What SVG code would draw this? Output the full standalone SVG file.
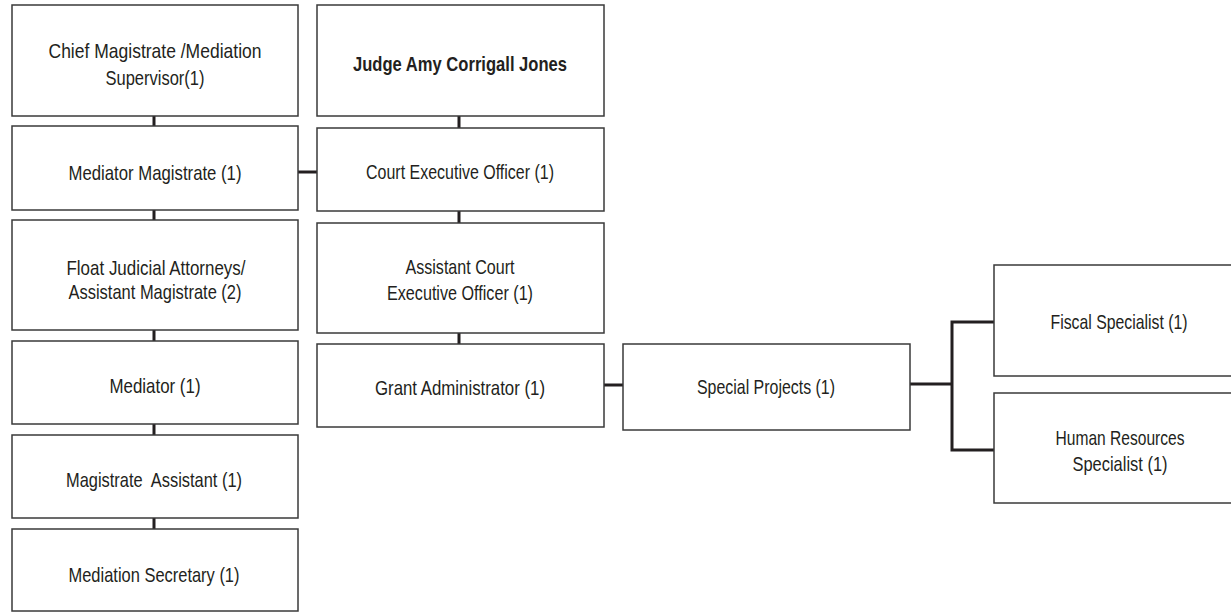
<svg xmlns="http://www.w3.org/2000/svg" width="1231" height="612" viewBox="0 0 1231 612">
  <style>
    .box { fill: #ffffff; stroke: #3a3a3a; stroke-width: 1.5; }
    .lbl { font-family: "Liberation Sans", Arial, sans-serif; font-size: 21px; fill: #231f20; text-anchor: middle; }
    .bold { font-weight: bold; }
    .link { fill: none; stroke: #231f20; stroke-width: 3; }
  </style>
  <rect width="1231" height="612" fill="#ffffff"/>

  <!-- connectors -->
  <g id="connectors">
    <path class="link" d="M154 116V126 M154 210V220 M154 330V341 M154 424V435 M154 518V529"/>
    <path class="link" d="M459 116V128 M459 211V223 M459 333V344"/>
    <path class="link" d="M298 172H317"/>
    <path class="link" d="M604 385H623"/>
    <path class="link" d="M910 384H952 M994 322H952V450H994"/>
  </g>

  <!-- left column -->
  <g id="chief-magistrate">
    <rect class="box" x="12" y="5" width="286" height="111"/>
    <text class="lbl" x="155" y="58" textLength="213" lengthAdjust="spacingAndGlyphs">Chief Magistrate /Mediation</text>
    <text class="lbl" x="155" y="85" textLength="99" lengthAdjust="spacingAndGlyphs">Supervisor(1)</text>
  </g>
  <g id="mediator-magistrate">
    <rect class="box" x="12" y="126" width="286" height="84"/>
    <text class="lbl" x="155" y="180" textLength="173" lengthAdjust="spacingAndGlyphs">Mediator Magistrate (1)</text>
  </g>
  <g id="float-attorneys">
    <rect class="box" x="12" y="220" width="286" height="110"/>
    <text class="lbl" x="156" y="275" textLength="179" lengthAdjust="spacingAndGlyphs">Float Judicial Attorneys/</text>
    <text class="lbl" x="155" y="299" textLength="173" lengthAdjust="spacingAndGlyphs">Assistant Magistrate (2)</text>
  </g>
  <g id="mediator">
    <rect class="box" x="12" y="341" width="286" height="83"/>
    <text class="lbl" x="155" y="393" textLength="91" lengthAdjust="spacingAndGlyphs">Mediator (1)</text>
  </g>
  <g id="magistrate-assistant">
    <rect class="box" x="12" y="435" width="286" height="83"/>
    <text class="lbl" x="154" y="487" textLength="176" lengthAdjust="spacingAndGlyphs" xml:space="preserve">Magistrate  Assistant (1)</text>
  </g>
  <g id="mediation-secretary">
    <rect class="box" x="12" y="529" width="286" height="82"/>
    <text class="lbl" x="154" y="582" textLength="171" lengthAdjust="spacingAndGlyphs">Mediation Secretary (1)</text>
  </g>

  <!-- centre column -->
  <g id="judge">
    <rect class="box" x="317" y="5" width="287" height="111"/>
    <text class="lbl bold" x="460" y="71" textLength="214" lengthAdjust="spacingAndGlyphs">Judge Amy Corrigall Jones</text>
  </g>
  <g id="court-executive-officer">
    <rect class="box" x="317" y="128" width="287" height="83"/>
    <text class="lbl" x="460" y="179" textLength="188" lengthAdjust="spacingAndGlyphs">Court Executive Officer (1)</text>
  </g>
  <g id="assistant-ceo">
    <rect class="box" x="317" y="223" width="287" height="110"/>
    <text class="lbl" x="460" y="274" textLength="109" lengthAdjust="spacingAndGlyphs">Assistant Court</text>
    <text class="lbl" x="460" y="300" textLength="146" lengthAdjust="spacingAndGlyphs">Executive Officer (1)</text>
  </g>
  <g id="grant-administrator">
    <rect class="box" x="317" y="344" width="287" height="83"/>
    <text class="lbl" x="460" y="395" textLength="170" lengthAdjust="spacingAndGlyphs">Grant Administrator (1)</text>
  </g>

  <!-- right side -->
  <g id="special-projects">
    <rect class="box" x="623" y="344" width="287" height="86"/>
    <text class="lbl" x="766" y="394" textLength="138" lengthAdjust="spacingAndGlyphs">Special Projects (1)</text>
  </g>
  <g id="fiscal-specialist">
    <rect class="box" x="994" y="265" width="260" height="111"/>
    <text class="lbl" x="1119" y="329" textLength="137" lengthAdjust="spacingAndGlyphs">Fiscal Specialist (1)</text>
  </g>
  <g id="hr-specialist">
    <rect class="box" x="994" y="393" width="260" height="110"/>
    <text class="lbl" x="1120" y="445" textLength="129" lengthAdjust="spacingAndGlyphs">Human Resources</text>
    <text class="lbl" x="1120" y="471" textLength="95" lengthAdjust="spacingAndGlyphs">Specialist (1)</text>
  </g>
</svg>
